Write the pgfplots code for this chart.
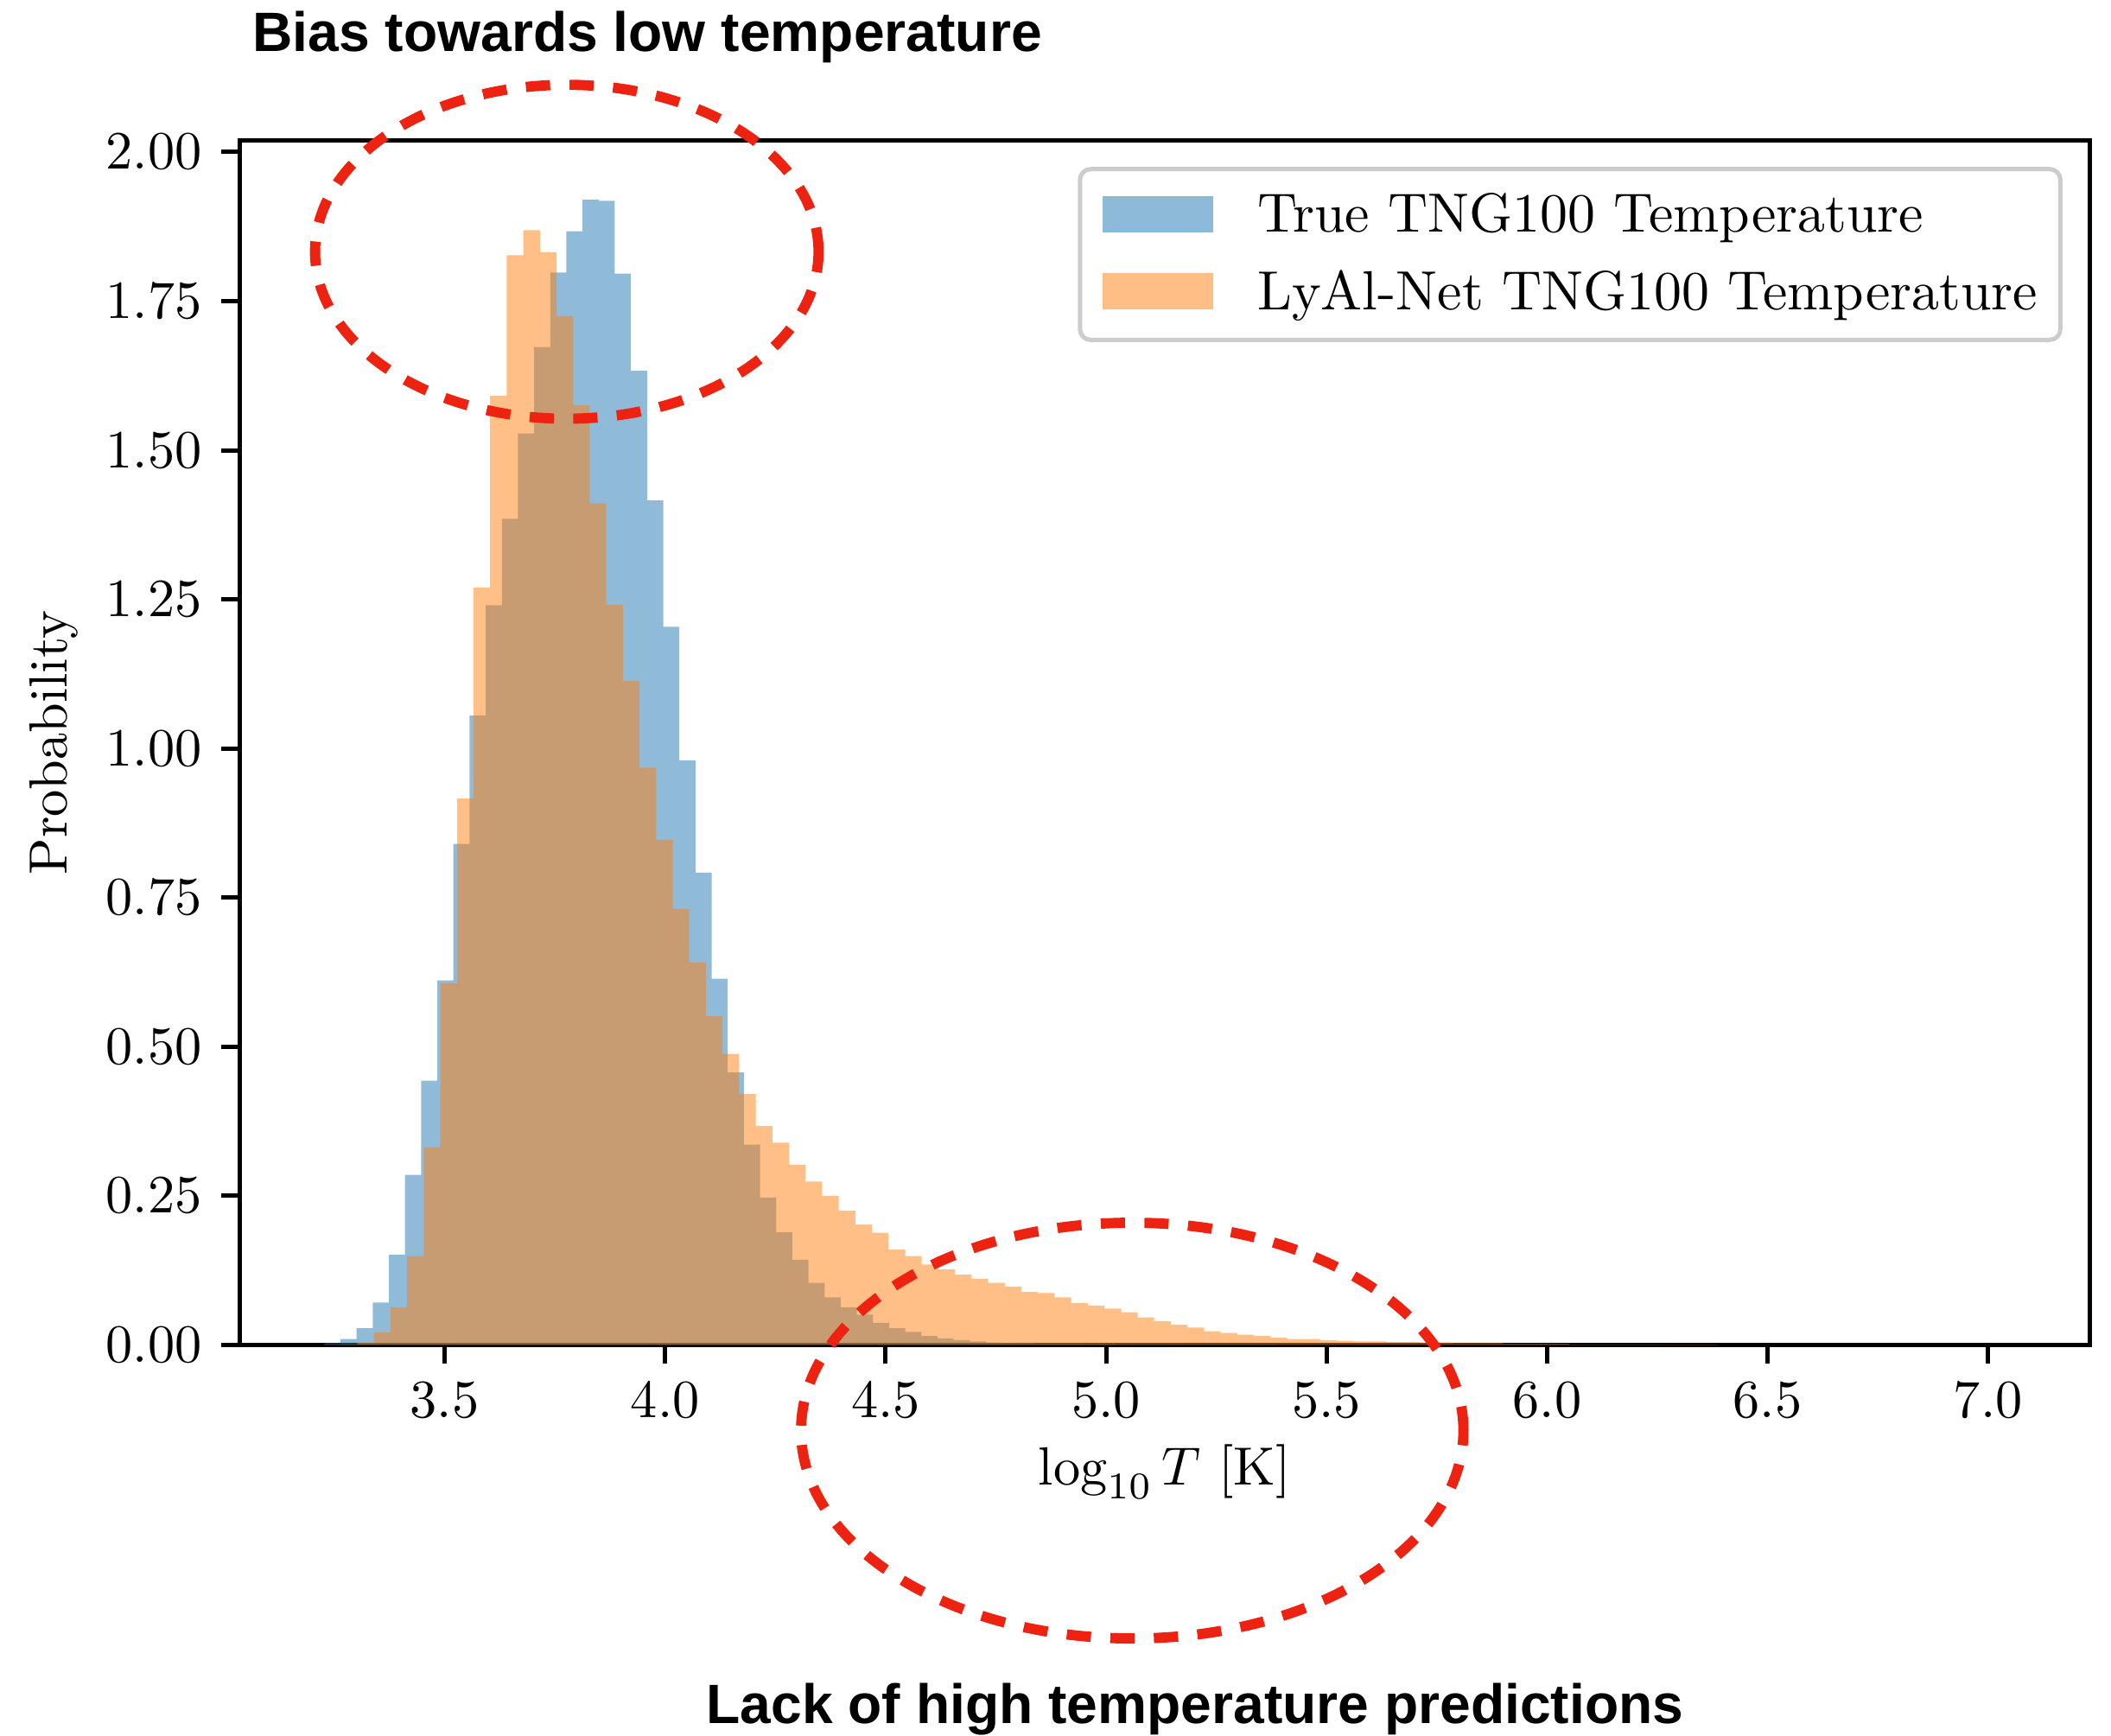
\documentclass[border=0pt]{standalone}
\usepackage{fontspec}
\usepackage{pgfplots}
\pgfplotsset{compat=1.18}
\usepackage{pgfplotstable}
\newfontfamily\annfont{Liberation Sans}
\definecolor{cblue}{HTML}{1F77B4}
\definecolor{corange}{HTML}{FF7F0E}
\definecolor{annred}{RGB}{238,34,17}

\pgfplotstableread{
x y
3.2270 0.003
3.2636 0.010
3.3002 0.028
3.3368 0.071
3.3734 0.151
3.4100 0.285
3.4466 0.443
3.4832 0.611
3.5198 0.840
3.5564 1.055
3.5930 1.240
3.6296 1.385
3.6662 1.528
3.7028 1.673
3.7394 1.798
3.7760 1.867
3.8126 1.920
3.8492 1.918
3.8858 1.796
3.9224 1.633
3.9590 1.416
3.9956 1.204
4.0322 0.980
4.0688 0.792
4.1054 0.614
4.1420 0.457
4.1786 0.336
4.2152 0.247
4.2518 0.189
4.2884 0.143
4.3250 0.104
4.3616 0.080
4.3982 0.063
4.4348 0.051
4.4714 0.037
4.5080 0.028
4.5446 0.022
4.5812 0.015
4.6178 0.011
4.6544 0.008
4.6910 0.006
4.7276 0.004
4.7642 0.003
4.8008 0.003
4.8374 0.002
4.8740 0.002
4.9106 0.002
4.9472 0.0015
4.9838 0.0015
5.0204 0.001
5.0570 0.001
5.0936 0.0008
5.1302 0.0008
5.1668 0.0007
5.2034 0.0006
5.2400 0.0005
5.2766 0.0005
5.3132 0.0004
5.3498 0.0004
5.3864 0.0003
5.4230 0.0003
5.4596 0
}\bluehist

\pgfplotstableread{
x y
3.2265 0.000
3.2642 0.001
3.3018 0.004
3.3395 0.021
3.3771 0.063
3.4148 0.149
3.4524 0.331
3.4901 0.606
3.5277 0.916
3.5654 1.270
3.6030 1.591
3.6407 1.827
3.6783 1.869
3.7160 1.832
3.7536 1.725
3.7913 1.576
3.8289 1.411
3.8666 1.241
3.9042 1.113
3.9419 0.968
3.9795 0.847
4.0172 0.731
4.0548 0.641
4.0925 0.551
4.1301 0.488
4.1678 0.421
4.2054 0.367
4.2431 0.339
4.2807 0.302
4.3184 0.274
4.3560 0.250
4.3937 0.225
4.4313 0.202
4.4690 0.188
4.5066 0.160
4.5443 0.149
4.5819 0.135
4.6196 0.127
4.6572 0.118
4.6949 0.111
4.7325 0.104
4.7702 0.098
4.8078 0.089
4.8455 0.087
4.8831 0.080
4.9208 0.070
4.9584 0.066
4.9961 0.061
5.0337 0.055
5.0714 0.046
5.1090 0.040
5.1467 0.034
5.1843 0.029
5.2220 0.023
5.2596 0.020
5.2973 0.017
5.3349 0.015
5.3726 0.012
5.4102 0.010
5.4479 0.010
5.4855 0.008
5.5232 0.007
5.5608 0.006
5.5985 0.006
5.6361 0.005
5.6738 0.005
5.7114 0.004
5.7491 0.004
5.7867 0.003
5.8244 0.003
5.8620 0.003
5.8997 0.002
5.9373 0.002
5.9750 0.002
6.0126 0.002
6.0503 0.001
6.0879 0.001
6.1256 0.001
6.1632 0.001
6.2009 0.001
6.2385 0.001
6.2762 0.0005
6.3138 0.0005
6.3515 0.0005
6.3891 0
}\orangehist

\begin{document}
\begin{tikzpicture}
\path[use as bounding box] (-44.5pt,-72.5pt) rectangle (347.5pt,249.75pt);
\begin{axis}[
  scale only axis,
  width=343.5pt, height=223.75pt,
  xmin=3.035, xmax=7.23, ymin=0, ymax=2.02,
  enlargelimits=false,
  xtick={3.5,4.0,4.5,5.0,5.5,6.0,6.5,7.0},
  ytick={0,0.25,0.5,0.75,1.0,1.25,1.5,1.75,2.0},
  x tick label style={/pgf/number format/.cd, fixed, fixed zerofill, precision=1},
  y tick label style={/pgf/number format/.cd, fixed, fixed zerofill, precision=2},
  tick align=outside, tick pos=left,
  major tick length=3.5pt,
  tick style={black, line width=0.8pt},
  axis line style={line width=0.8pt},
  xlabel={$\log_{10} T$ [K]},
  ylabel={Probability},
  x label style={at={(axis description cs:0.5,-0.105)}, anchor=center},
  y label style={at={(axis description cs:-0.1004,0.5)}, anchor=center, rotate=0},
  legend cell align=left,
  legend style={at={(1,1)}, anchor=north east, xshift=-5pt, yshift=-5pt,
    draw=black!20, line width=0.8pt, rounded corners=2pt, fill=white, fill opacity=0.8, text opacity=1,
    inner xsep=4.2pt, inner ysep=4.5pt, row sep=6pt, column sep=8.25pt,
    font=\fontsize{10.25}{12}\selectfont,
    nodes={inner sep=0pt, text depth=0.25ex}},
]
\addplot[const plot mark left, fill=cblue, fill opacity=0.5, draw=none,
  legend image code/.code={\fill[cblue, fill opacity=0.5, sharp corners] (0pt,-3.1pt) rectangle (20.5pt,3.7pt);}]
  table {\bluehist} \closedcycle;
\addlegendentry{True TNG100 Temperature}
\addplot[const plot mark left, fill=corange, fill opacity=0.5, draw=none,
  legend image code/.code={\fill[corange, fill opacity=0.5, sharp corners] (0pt,-3.1pt) rectangle (20.5pt,3.7pt);}]
  table {\orangehist} \closedcycle;
\addlegendentry{LyAl-Net TNG100 Temperature}
\end{axis}
\draw[annred, line width=1.9pt, dash pattern=on 4.5pt off 3.6pt] (60.75pt,203pt) ellipse [x radius=46.75pt, y radius=31pt];
\draw[annred, line width=1.9pt, dash pattern=on 4.5pt off 3.6pt] (165.75pt,-15.9pt) ellipse [x radius=61.5pt, y radius=38.6pt];
\node[anchor=base west, inner sep=0pt, font=\annfont\bfseries\fontsize{10.3}{12}\selectfont] at (2.25pt,240.25pt) {Bias towards low temperature};
\node[anchor=base west, inner sep=0pt, font=\annfont\bfseries\fontsize{10.3}{12}\selectfont] at (86.5pt,-70.3pt) {Lack of high temperature predictions};
\end{tikzpicture}
\end{document}
